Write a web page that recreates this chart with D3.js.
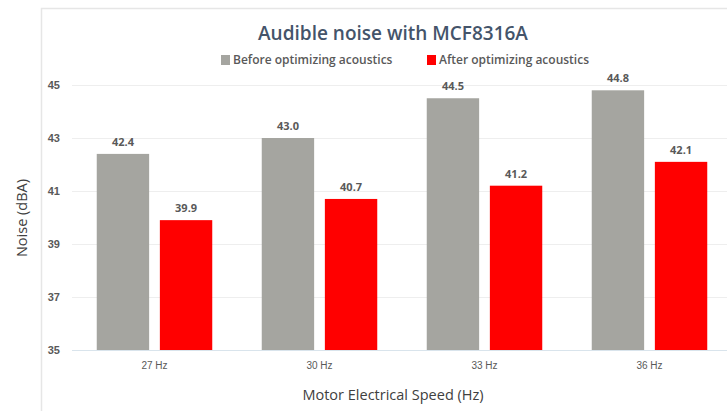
<!DOCTYPE html>
<html><head><meta charset="utf-8">
<script src="https://cdn.jsdelivr.net/npm/d3@7"></script>
<style>body{margin:0;background:#fff;}svg{display:block;font-family:"Open Sans",Calibri,sans-serif;}</style>
</head><body>
<svg id="c" width="727" height="411"></svg>
<script>
const categories = ["27 Hz", "30 Hz", "33 Hz", "36 Hz"];
const seriesNames = ["Before optimizing acoustics", "After optimizing acoustics"];
const beforeValues = [42.4, 43.0, 44.5, 44.8];
const afterValues = [39.9, 40.7, 41.2, 42.1];
const yTicks = [35, 37, 39, 41, 43, 45];
const colors = ["#a5a5a0", "#ff0000"];

const svg = d3.select("#c");
// chart frame
svg.append("path").attr("d", "M41.5,411 V8.5 H727").attr("fill", "none").attr("stroke", "#e6e6e6").attr("stroke-width", 1.5);

const x0 = d3.scaleBand().domain(categories).range([72, 732]).paddingInner(0.3).paddingOuter(0.15);
const x1 = d3.scaleBand().domain(seriesNames).range([0, x0.bandwidth()]).paddingInner(0.17);
const y = d3.scaleLinear().domain([35, 45]).range([350, 85]);

// grid
svg.append("g").selectAll("line").data(yTicks).join("line")
  .attr("x1", 72).attr("x2", 727).attr("y1", d => y(d) + 0.5).attr("y2", d => y(d) + 0.5)
  .attr("stroke", d => d === 35 ? "#d9e4ec" : "#eeeeee").attr("stroke-width", 1.2);

// y axis labels
const yAxis = d3.axisLeft(y).tickValues(yTicks).tickSize(0).tickPadding(0);
const gy = svg.append("g").attr("transform", "translate(60,0)").call(yAxis);
gy.select(".domain").remove();
gy.selectAll("text").attr("font-size", 11).attr("font-weight", "bold").attr("fill", "#595959").attr("dy", "0.35em");

// x axis labels
const xAxis = d3.axisBottom(x0).tickSize(0).tickPadding(0);
const gx = svg.append("g").attr("transform", "translate(0,362)").call(xAxis);
gx.select(".domain").remove();
gx.selectAll("text").attr("font-size", 10).attr("fill", "#595959").attr("dy", "0.71em");

const data = categories.map((c, i) => ({cat: c, vals: [beforeValues[i], afterValues[i]]}));
const groups = svg.append("g").selectAll("g").data(data).join("g")
  .attr("transform", d => `translate(${x0(d.cat)},0)`);
groups.selectAll("rect").data(d => d.vals.map((v, j) => ({s: seriesNames[j], v, j}))).join("rect")
  .attr("x", d => x1(d.s)).attr("width", x1.bandwidth())
  .attr("y", d => y(d.v)).attr("height", d => y(35) - y(d.v))
  .attr("fill", d => colors[d.j]);
groups.selectAll("text").data(d => d.vals.map((v, j) => ({s: seriesNames[j], v, j}))).join("text")
  .attr("x", d => x1(d.s) + x1.bandwidth() / 2).attr("y", d => y(d.v) - 8)
  .attr("text-anchor", "middle").attr("font-size", 11).attr("font-weight", "bold").attr("fill", "#595959")
  .text(d => d.v.toFixed(1));

// title
svg.append("text").attr("x", 393).attr("y", 40).attr("text-anchor", "middle")
  .attr("font-size", 19).attr("font-weight", "600").attr("fill", "#44546a").text("Audible noise with MCF8316A");

// legend
const legendX = [221, 427];
const lg = svg.append("g").selectAll("g").data(seriesNames).join("g")
  .attr("transform", (d, i) => `translate(${legendX[i]},60)`);
lg.append("rect").attr("x", 0).attr("y", -5).attr("width", 9).attr("height", 10).attr("fill", (d, i) => colors[i]);
lg.append("text").attr("x", 12).attr("y", 0).attr("dy", "0.35em").attr("font-size", 12).attr("font-weight", "600")
  .attr("fill", "#595959").text(d => d);

// axis titles
svg.append("text").attr("x", 393).attr("y", 400).attr("text-anchor", "middle")
  .attr("font-size", 14.5).attr("fill", "#404040").text("Motor Electrical Speed (Hz)");
svg.append("text").attr("transform", "translate(27,218) rotate(-90)").attr("text-anchor", "middle")
  .attr("font-size", 14.5).attr("fill", "#404040").text("Noise (dBA)");
</script>
</body></html>
